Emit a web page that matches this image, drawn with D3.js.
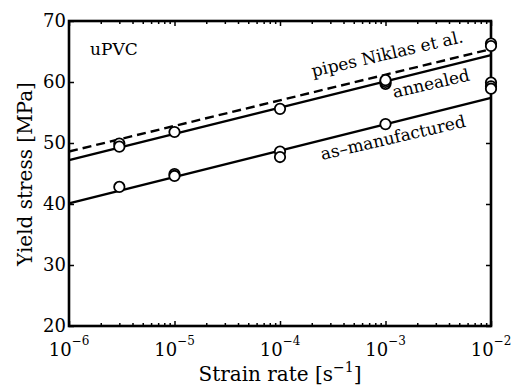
<!DOCTYPE html>
<html><head><meta charset="utf-8">
<script src="https://cdn.jsdelivr.net/npm/d3@7"></script>
<style>
html,body{margin:0;padding:0;background:#fff;}
svg{display:block;font-family:"DejaVu Serif",serif;}
</style></head>
<body><svg id="c" width="511" height="385"></svg>
<script>
// ---- data ----
const xExponents = [-6, -5, -4, -3, -2];
const yTicks = [20, 30, 40, 50, 60, 70];
// measured points (strain rate, yield stress)
const annealedRate = [3e-6, 3e-6, 1e-5, 1e-4, 1e-3, 1e-3, 1e-3, 1e-2, 1e-2];
const annealedStress = [49.9, 49.4, 51.8, 55.6, 59.7, 60.0, 60.3, 66.3, 65.9];
const manufRate = [3e-6, 1e-5, 1e-5, 1e-4, 1e-4, 1e-3, 1e-2, 1e-2, 1e-2];
const manufStress = [42.8, 44.9, 44.6, 48.6, 47.7, 53.1, 59.9, 59.3, 58.9];
// fitted lines (endpoints)
const fitRate = [1e-6, 1e-2];
const pipesFit = [48.6, 65.4];
const annealedFit = [47.2, 64.4];
const manufFit = [40.1, 57.4];
const labels = ["pipes Niklas et al.", "annealed", "as\u2013manufactured", "uPVC"];

// ---- layout ----
const svg = d3.select("#c");
const L = 69, R = 491, T = 21, B = 326;
const x = d3.scaleLog().domain([1e-6, 1e-2]).range([L, R]);
const y = d3.scaleLinear().domain([20, 70]).range([B, T]);
const fs = 18;

const majors = xExponents.map(e => Math.pow(10, e));
const minors = x.ticks().filter(v => !majors.some(m => Math.abs(m - v) / m < 1e-6));

function styleAxis(g) {
  g.select(".domain").remove();
  g.selectAll("line").attr("stroke", "#000").attr("stroke-width", 1.5);
  g.selectAll("text").remove();
}
svg.append("g").attr("transform", `translate(0,${B})`).call(d3.axisBottom(x).tickValues(majors).tickSize(-5)).call(styleAxis);
svg.append("g").attr("transform", `translate(0,${B})`).call(d3.axisBottom(x).tickValues(minors).tickSize(-3)).call(styleAxis);
svg.append("g").attr("transform", `translate(0,${T})`).call(d3.axisTop(x).tickValues(majors).tickSize(-5)).call(styleAxis);
svg.append("g").attr("transform", `translate(0,${T})`).call(d3.axisTop(x).tickValues(minors).tickSize(-3)).call(styleAxis);
svg.append("g").attr("transform", `translate(${L},0)`).call(d3.axisLeft(y).tickValues(yTicks).tickSize(-5)).call(styleAxis);
svg.append("g").attr("transform", `translate(${R},0)`).call(d3.axisRight(y).tickValues(yTicks).tickSize(-5)).call(styleAxis);

// frame
svg.append("rect").attr("x", L).attr("y", T).attr("width", R - L).attr("height", B - T)
  .attr("fill", "none").attr("stroke", "#000").attr("stroke-width", 2.6);

// y tick labels
svg.append("g").selectAll("text").data(yTicks).join("text")
  .attr("x", L - 3).attr("y", d => y(d)).attr("dy", "0.36em")
  .attr("text-anchor", "end").attr("font-size", fs).text(d => d);

// x tick labels
const xl = svg.append("g").selectAll("text").data(xExponents).join("text")
  .attr("x", d => x(Math.pow(10, d))).attr("y", 356)
  .attr("text-anchor", "middle").attr("font-size", fs);
xl.append("tspan").text("10");
xl.append("tspan").attr("font-size", 12).attr("dy", -11).text(d => "\u2212" + Math.abs(d));

// axis titles
const xt = svg.append("text").attr("x", 280).attr("y", 381).attr("text-anchor", "middle").attr("font-size", 20);
xt.append("tspan").text("Strain rate [s");
xt.append("tspan").attr("font-size", 14).attr("dy", -9).text("\u22121");
xt.append("tspan").attr("dy", 9).text("]");
svg.append("text").attr("transform", "translate(32,174) rotate(-90)")
  .attr("text-anchor", "middle").attr("font-size", 20).text("Yield stress [MPa]");

// fit lines
const line = d3.line().x(d => x(d[0])).y(d => y(d[1]));
function fit(vals, dash) {
  svg.append("path").datum(fitRate.map((r, i) => [r, vals[i]])).attr("d", line)
    .attr("fill", "none").attr("stroke", "#000").attr("stroke-width", 2.4)
    .attr("stroke-dasharray", dash);
}
fit(pipesFit, "9,5");
fit(annealedFit, null);
fit(manufFit, null);

// points
function pts(rates, vals) {
  svg.append("g").selectAll("circle").data(rates.map((r, i) => [r, vals[i]])).join("circle")
    .attr("cx", d => x(d[0])).attr("cy", d => y(d[1])).attr("r", 5.2)
    .attr("fill", "#fff").attr("stroke", "#000").attr("stroke-width", 1.8);
}
pts(annealedRate, annealedStress);
pts(manufRate, manufStress);

// labels
svg.append("text").attr("x", 90).attr("y", 55).attr("font-size", 17).text(labels[3]);
function rot(txt, x0, y0, ang) {
  svg.append("text").attr("transform", `translate(${x0},${y0}) rotate(${ang})`)
    .attr("font-size", 17).text(txt);
}
rot(labels[0], 313, 77, -13);
rot(labels[1], 394, 98, -13);
rot(labels[2], 322, 160, -13);
</script></body></html>
